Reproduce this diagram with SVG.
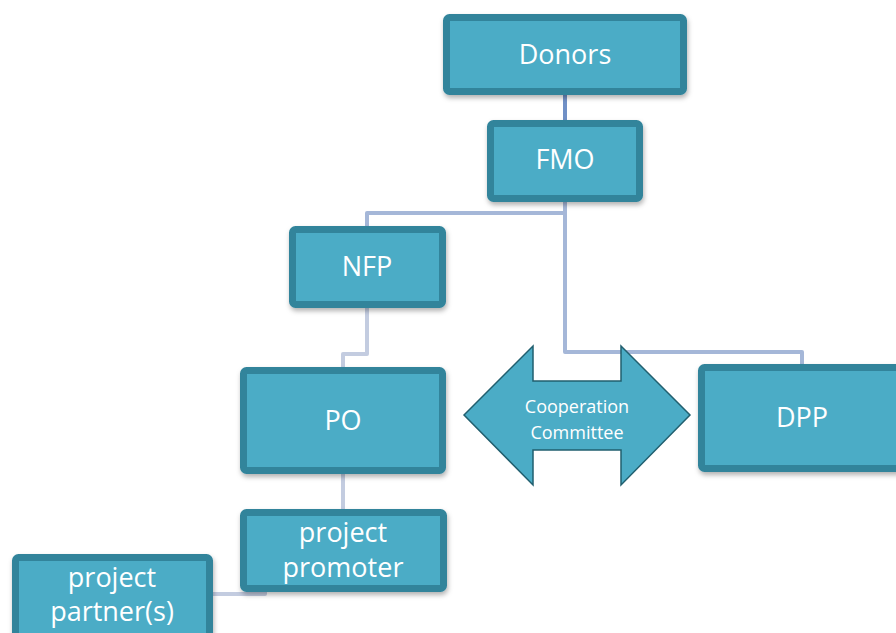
<svg xmlns="http://www.w3.org/2000/svg" width="896" height="633" viewBox="0 0 896 633">
<defs>
<filter id="sh" x="-10%" y="-10%" width="130%" height="140%">
<feDropShadow dx="1" dy="3" stdDeviation="2.5" flood-color="#000" flood-opacity="0.3"/>
</filter>
<style>
.box{fill:#4bacc6;stroke:#31849b;stroke-width:7;filter:url(#sh)}
.t{font-family:"Open Sans","Liberation Sans",sans-serif;font-size:27px;fill:#fff;text-anchor:middle}
.s{font-family:"Open Sans","Liberation Sans",sans-serif;font-size:18px;fill:#fff;text-anchor:middle}
.c{fill:none;stroke-width:4;stroke-linejoin:round}
</style>
</defs>
<rect width="896" height="633" fill="#fff"/>
<g id="connectors">
<path class="c" stroke="#7090c6" d="M565 95 V120"/>
<path class="c" stroke="#a5b7d8" d="M565 202 V213 H367 V226"/>
<path class="c" stroke="#a5b7d8" d="M565 202 V352 H802 V364"/>
<path class="c" stroke="#c3cce0" d="M367 308 V354 H343 V367"/>
<path class="c" stroke="#c3cce0" d="M343 474 V509"/>
<path class="c" stroke="#c3cce0" d="M265 592 V594 H213"/>
</g>
<g id="donors"><rect class="box" x="446.5" y="17.5" width="237" height="74" rx="3"/><text class="t" x="565" y="64">Donors</text></g>
<g id="fmo"><rect class="box" x="490.5" y="123.5" width="149" height="75" rx="3"/><text class="t" x="565" y="169">FMO</text></g>
<g id="nfp"><rect class="box" x="292.5" y="229.5" width="150" height="75" rx="3"/><text class="t" x="367" y="276">NFP</text></g>
<g id="po"><rect class="box" x="243.5" y="370.5" width="199" height="100" rx="3"/><text class="t" x="343" y="430">PO</text></g>
<g id="dpp"><rect class="box" x="701.5" y="367.5" width="200" height="101" rx="3"/><text class="t" x="802" y="427">DPP</text></g>
<g id="promoter"><rect class="box" x="243.5" y="512.5" width="200" height="76" rx="3"/><text class="t" x="343" y="542">project</text><text class="t" x="343" y="577">promoter</text></g>
<g id="partner"><rect class="box" x="15.5" y="557.5" width="194" height="82" rx="3"/><text class="t" x="112" y="587">project</text><text class="t" x="112" y="621">partner(s)</text></g>
<g id="cooperation">
<polygon points="464,415 533,346 533,381 621,381 621,346 690,415 621,485 621,450 533,450 533,485" fill="#4bacc6" stroke="#215f6f" stroke-width="1.5" stroke-linejoin="miter"/>
<text class="s" x="577" y="413">Cooperation</text>
<text class="s" x="577" y="439">Committee</text>
</g>
</svg>
